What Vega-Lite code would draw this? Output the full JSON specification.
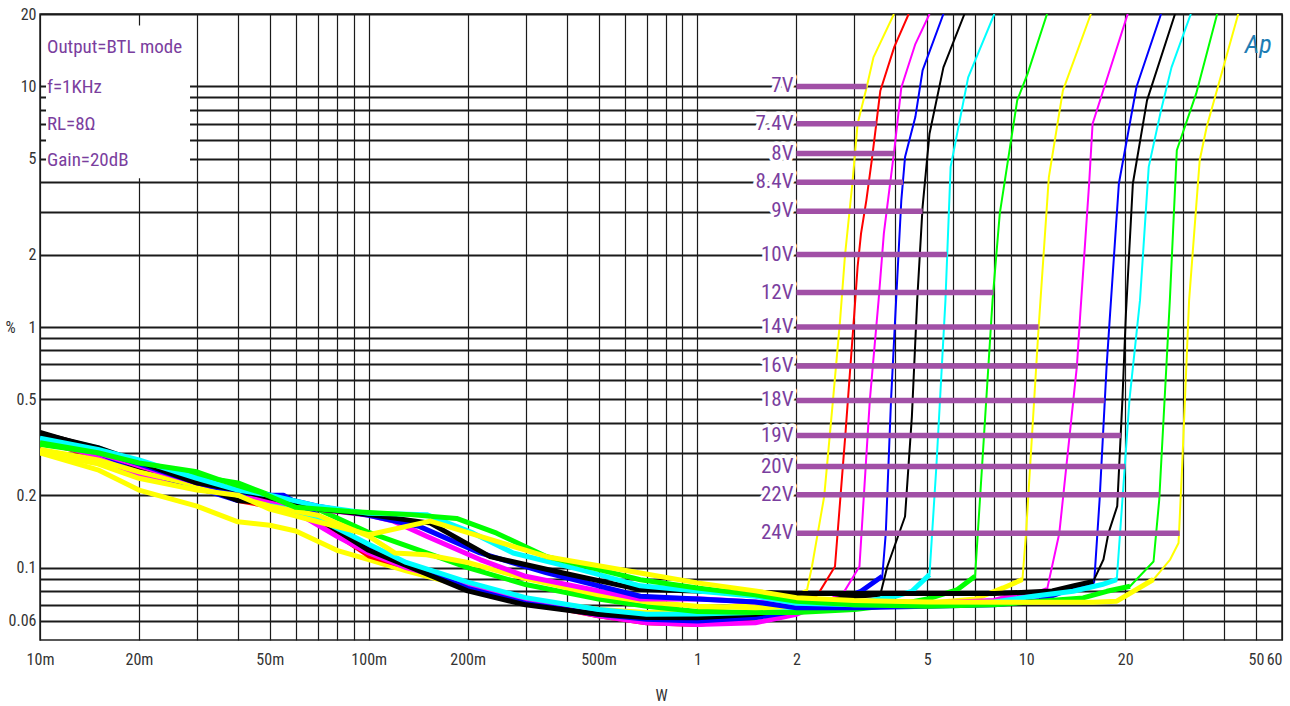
{
  "$schema": "https://vega.github.io/schema/vega-lite/v6.json",
  "width": 1242,
  "height": 626,
  "autosize": {"type": "none"},
  "padding": {"left": 40, "top": 14, "right": 8, "bottom": 66},
  "background": "white",
  "config": {
    "view": {"stroke": "#222", "strokeWidth": 1.5},
    "font": "Liberation Sans Narrow, Arial Narrow, Roboto Condensed, Noto Sans Condensed, DejaVu Sans Condensed, sans-serif"
  },
  "datasets": {
    "box": [{"w": 0.01043, "w2": 0.0286, "p": 4.15, "p2": 17.9}],
    "notes": [
      {"t": "Output=BTL mode", "w": 0.0105, "p": 14.6},
      {"t": "f=1KHz", "w": 0.0105, "p": 9.9},
      {"t": "RL=8Ω", "w": 0.0105, "p": 7.0},
      {"t": "Gain=20dB", "w": 0.0105, "p": 4.95}
    ],
    "logo": [{"t": "Ap", "w": 50.8, "p": 14.8}],
    "volts": [
      {"s": "7V", "w": 2, "p": 10, "w2": 3.27},
      {"s": "7.4V", "w": 2, "p": 7, "w2": 3.5},
      {"s": "8V", "w": 2, "p": 5.26, "w2": 3.97},
      {"s": "8.4V", "w": 2, "p": 4, "w2": 4.22},
      {"s": "9V", "w": 2, "p": 3.03, "w2": 4.84},
      {"s": "10V", "w": 2, "p": 2, "w2": 5.74},
      {"s": "12V", "w": 2, "p": 1.39, "w2": 7.95},
      {"s": "14V", "w": 2, "p": 1, "w2": 10.9},
      {"s": "16V", "w": 2, "p": 0.689, "w2": 14.3},
      {"s": "18V", "w": 2, "p": 0.495, "w2": 17.3},
      {"s": "19V", "w": 2, "p": 0.354, "w2": 19.4},
      {"s": "20V", "w": 2, "p": 0.263, "w2": 20.0},
      {"s": "22V", "w": 2, "p": 0.201, "w2": 25.4},
      {"s": "24V", "w": 2, "p": 0.139, "w2": 29.3}
    ],
    "curves": [
      {"s":"7V","w":0.01,"p":0.30},{"s":"7V","w":0.015,"p":0.255},{"s":"7V","w":0.02,"p":0.21},{"s":"7V","w":0.03,"p":0.18},{"s":"7V","w":0.04,"p":0.155},{"s":"7V","w":0.05,"p":0.15},{"s":"7V","w":0.06,"p":0.142},{"s":"7V","w":0.08,"p":0.118},{"s":"7V","w":0.1,"p":0.108},{"s":"7V","w":0.13,"p":0.097},{"s":"7V","w":0.2,"p":0.083},{"s":"7V","w":0.3,"p":0.074},{"s":"7V","w":0.5,"p":0.067},{"s":"7V","w":0.7,"p":0.065},{"s":"7V","w":1,"p":0.066},{"s":"7V","w":1.5,"p":0.071},{"s":"7V","w":2,"p":0.076},{"s":"7V","w":2.15,"p":0.0797},{"s":"7V","w":2.23,"p":0.101},{"s":"7V","w":2.43,"p":0.198},{"s":"7V","w":2.585,"p":0.5},{"s":"7V","w":2.716,"p":1.07},{"s":"7V","w":2.81,"p":1.98},{"s":"7V","w":2.96,"p":3.95},{"s":"7V","w":3.07,"p":7},{"s":"7V","w":3.27,"p":9.9},{"s":"7V","w":3.43,"p":13.2},{"s":"7V","w":3.96,"p":20},
      {"s":"7.4V","w":0.01,"p":0.335},{"s":"7.4V","w":0.015,"p":0.29},{"s":"7.4V","w":0.02,"p":0.25},{"s":"7.4V","w":0.03,"p":0.225},{"s":"7.4V","w":0.04,"p":0.19},{"s":"7.4V","w":0.05,"p":0.18},{"s":"7.4V","w":0.07,"p":0.155},{"s":"7.4V","w":0.1,"p":0.112},{"s":"7.4V","w":0.15,"p":0.095},{"s":"7.4V","w":0.2,"p":0.083},{"s":"7.4V","w":0.3,"p":0.072},{"s":"7.4V","w":0.5,"p":0.063},{"s":"7.4V","w":0.7,"p":0.059},{"s":"7.4V","w":1,"p":0.058},{"s":"7.4V","w":1.5,"p":0.062},{"s":"7.4V","w":2,"p":0.07},{"s":"7.4V","w":2.34,"p":0.0785},{"s":"7.4V","w":2.62,"p":0.101},{"s":"7.4V","w":2.82,"p":0.362},{"s":"7.4V","w":3.0,"p":1.14},{"s":"7.4V","w":3.07,"p":1.78},{"s":"7.4V","w":3.145,"p":2.45},{"s":"7.4V","w":3.265,"p":3.37},{"s":"7.4V","w":3.39,"p":4.93},{"s":"7.4V","w":3.5,"p":7},{"s":"7.4V","w":3.6,"p":9.6},{"s":"7.4V","w":3.97,"p":14.6},{"s":"7.4V","w":4.39,"p":20},
      {"s":"8V","w":0.01,"p":0.34},{"s":"8V","w":0.015,"p":0.29},{"s":"8V","w":0.02,"p":0.24},{"s":"8V","w":0.025,"p":0.225},{"s":"8V","w":0.03,"p":0.215},{"s":"8V","w":0.04,"p":0.21},{"s":"8V","w":0.05,"p":0.19},{"s":"8V","w":0.06,"p":0.17},{"s":"8V","w":0.08,"p":0.135},{"s":"8V","w":0.1,"p":0.115},{"s":"8V","w":0.13,"p":0.1},{"s":"8V","w":0.2,"p":0.085},{"s":"8V","w":0.3,"p":0.073},{"s":"8V","w":0.5,"p":0.063},{"s":"8V","w":0.7,"p":0.059},{"s":"8V","w":1,"p":0.058},{"s":"8V","w":1.5,"p":0.059},{"s":"8V","w":2,"p":0.064},{"s":"8V","w":2.5,"p":0.072},{"s":"8V","w":2.78,"p":0.0785},{"s":"8V","w":3.11,"p":0.101},{"s":"8V","w":3.345,"p":0.498},{"s":"8V","w":3.556,"p":1.29},{"s":"8V","w":3.69,"p":2.45},{"s":"8V","w":3.97,"p":5.43},{"s":"8V","w":4.17,"p":9.9},{"s":"8V","w":4.6,"p":15},{"s":"8V","w":5.08,"p":20},
      {"s":"8.4V","w":0.01,"p":0.35},{"s":"8.4V","w":0.015,"p":0.3},{"s":"8.4V","w":0.02,"p":0.255},{"s":"8.4V","w":0.03,"p":0.215},{"s":"8.4V","w":0.04,"p":0.19},{"s":"8.4V","w":0.05,"p":0.2},{"s":"8.4V","w":0.055,"p":0.2},{"s":"8.4V","w":0.07,"p":0.165},{"s":"8.4V","w":0.1,"p":0.122},{"s":"8.4V","w":0.13,"p":0.104},{"s":"8.4V","w":0.2,"p":0.082},{"s":"8.4V","w":0.3,"p":0.071},{"s":"8.4V","w":0.5,"p":0.064},{"s":"8.4V","w":0.7,"p":0.061},{"s":"8.4V","w":1,"p":0.06},{"s":"8.4V","w":1.5,"p":0.062},{"s":"8.4V","w":2,"p":0.066},{"s":"8.4V","w":2.5,"p":0.071},{"s":"8.4V","w":3.145,"p":0.0797},{"s":"8.4V","w":3.65,"p":0.092},{"s":"8.4V","w":3.74,"p":0.139},{"s":"8.4V","w":3.88,"p":0.498},{"s":"8.4V","w":4.02,"p":1.29},{"s":"8.4V","w":4.17,"p":3.37},{"s":"8.4V","w":4.28,"p":5.09},{"s":"8.4V","w":4.6,"p":7.46},{"s":"8.4V","w":4.84,"p":11.65},{"s":"8.4V","w":5.6,"p":20},
      {"s":"9V","w":0.01,"p":0.365},{"s":"9V","w":0.015,"p":0.31},{"s":"9V","w":0.02,"p":0.26},{"s":"9V","w":0.03,"p":0.22},{"s":"9V","w":0.04,"p":0.19},{"s":"9V","w":0.05,"p":0.185},{"s":"9V","w":0.07,"p":0.16},{"s":"9V","w":0.1,"p":0.118},{"s":"9V","w":0.13,"p":0.102},{"s":"9V","w":0.2,"p":0.08},{"s":"9V","w":0.3,"p":0.07},{"s":"9V","w":0.5,"p":0.064},{"s":"9V","w":0.7,"p":0.062},{"s":"9V","w":1,"p":0.0619},{"s":"9V","w":1.5,"p":0.064},{"s":"9V","w":2,"p":0.068},{"s":"9V","w":2.5,"p":0.073},{"s":"9V","w":3,"p":0.076},{"s":"9V","w":3.6,"p":0.0772},{"s":"9V","w":3.78,"p":0.101},{"s":"9V","w":4.28,"p":0.163},{"s":"9V","w":4.49,"p":0.424},{"s":"9V","w":4.66,"p":1.29},{"s":"9V","w":4.84,"p":3.16},{"s":"9V","w":5.08,"p":6.36},{"s":"9V","w":5.6,"p":12},{"s":"9V","w":6.49,"p":20},
      {"s":"10V","w":0.01,"p":0.355},{"s":"10V","w":0.015,"p":0.315},{"s":"10V","w":0.02,"p":0.27},{"s":"10V","w":0.03,"p":0.215},{"s":"10V","w":0.04,"p":0.2},{"s":"10V","w":0.05,"p":0.185},{"s":"10V","w":0.07,"p":0.16},{"s":"10V","w":0.1,"p":0.125},{"s":"10V","w":0.13,"p":0.105},{"s":"10V","w":0.2,"p":0.087},{"s":"10V","w":0.3,"p":0.075},{"s":"10V","w":0.5,"p":0.067},{"s":"10V","w":0.7,"p":0.064},{"s":"10V","w":1,"p":0.0641},{"s":"10V","w":1.5,"p":0.065},{"s":"10V","w":2,"p":0.067},{"s":"10V","w":3,"p":0.071},{"s":"10V","w":4,"p":0.076},{"s":"10V","w":4.49,"p":0.0797},{"s":"10V","w":5.08,"p":0.0935},{"s":"10V","w":5.33,"p":0.263},{"s":"10V","w":5.68,"p":1.29},{"s":"10V","w":5.89,"p":4.63},{"s":"10V","w":6.66,"p":10.9},{"s":"10V","w":8.0,"p":20},
      {"s":"12V","w":0.01,"p":0.325},{"s":"12V","w":0.015,"p":0.3},{"s":"12V","w":0.02,"p":0.27},{"s":"12V","w":0.03,"p":0.24},{"s":"12V","w":0.04,"p":0.225},{"s":"12V","w":0.05,"p":0.2},{"s":"12V","w":0.07,"p":0.175},{"s":"12V","w":0.1,"p":0.14},{"s":"12V","w":0.15,"p":0.115},{"s":"12V","w":0.2,"p":0.1},{"s":"12V","w":0.3,"p":0.085},{"s":"12V","w":0.5,"p":0.074},{"s":"12V","w":0.7,"p":0.069},{"s":"12V","w":1,"p":0.0657},{"s":"12V","w":1.5,"p":0.065},{"s":"12V","w":2,"p":0.065},{"s":"12V","w":3,"p":0.067},{"s":"12V","w":4,"p":0.07},{"s":"12V","w":5,"p":0.074},{"s":"12V","w":6.18,"p":0.081},{"s":"12V","w":6.99,"p":0.092},{"s":"12V","w":7.34,"p":0.263},{"s":"12V","w":7.9,"p":1.29},{"s":"12V","w":8.31,"p":2.96},{"s":"12V","w":9.39,"p":8.75},{"s":"12V","w":10.1,"p":11.3},{"s":"12V","w":11.57,"p":20},
      {"s":"14V","w":0.01,"p":0.31},{"s":"14V","w":0.015,"p":0.28},{"s":"14V","w":0.02,"p":0.25},{"s":"14V","w":0.03,"p":0.22},{"s":"14V","w":0.04,"p":0.2},{"s":"14V","w":0.05,"p":0.18},{"s":"14V","w":0.07,"p":0.165},{"s":"14V","w":0.1,"p":0.135},{"s":"14V","w":0.12,"p":0.115},{"s":"14V","w":0.15,"p":0.113},{"s":"14V","w":0.2,"p":0.105},{"s":"14V","w":0.3,"p":0.09},{"s":"14V","w":0.5,"p":0.077},{"s":"14V","w":0.7,"p":0.072},{"s":"14V","w":1,"p":0.069},{"s":"14V","w":1.5,"p":0.068},{"s":"14V","w":2,"p":0.069},{"s":"14V","w":3,"p":0.07},{"s":"14V","w":5,"p":0.071},{"s":"14V","w":7,"p":0.074},{"s":"14V","w":8.51,"p":0.0823},{"s":"14V","w":9.74,"p":0.0892},{"s":"14V","w":9.99,"p":0.139},{"s":"14V","w":10.88,"p":0.942},{"s":"14V","w":11.72,"p":4.2},{"s":"14V","w":12.93,"p":9.6},{"s":"14V","w":15.73,"p":20},
      {"s":"16V","w":0.01,"p":0.34},{"s":"16V","w":0.015,"p":0.3},{"s":"16V","w":0.02,"p":0.265},{"s":"16V","w":0.03,"p":0.225},{"s":"16V","w":0.04,"p":0.205},{"s":"16V","w":0.05,"p":0.19},{"s":"16V","w":0.07,"p":0.175},{"s":"16V","w":0.1,"p":0.165},{"s":"16V","w":0.119,"p":0.156},{"s":"16V","w":0.15,"p":0.135},{"s":"16V","w":0.218,"p":0.108},{"s":"16V","w":0.3,"p":0.092},{"s":"16V","w":0.5,"p":0.08},{"s":"16V","w":0.67,"p":0.074},{"s":"16V","w":1,"p":0.0742},{"s":"16V","w":1.5,"p":0.072},{"s":"16V","w":2,"p":0.07},{"s":"16V","w":3,"p":0.07},{"s":"16V","w":5,"p":0.071},{"s":"16V","w":8,"p":0.073},{"s":"16V","w":9.5,"p":0.078},{"s":"16V","w":10.5,"p":0.077},{"s":"16V","w":11.57,"p":0.081},{"s":"16V","w":12.61,"p":0.139},{"s":"16V","w":14.26,"p":0.684},{"s":"16V","w":14.61,"p":1.14},{"s":"16V","w":15.54,"p":3.95},{"s":"16V","w":15.92,"p":7},{"s":"16V","w":20.36,"p":20},
      {"s":"18V","w":0.01,"p":0.35},{"s":"18V","w":0.015,"p":0.305},{"s":"18V","w":0.02,"p":0.27},{"s":"18V","w":0.03,"p":0.225},{"s":"18V","w":0.04,"p":0.205},{"s":"18V","w":0.05,"p":0.2},{"s":"18V","w":0.07,"p":0.18},{"s":"18V","w":0.1,"p":0.165},{"s":"18V","w":0.143,"p":0.148},{"s":"18V","w":0.218,"p":0.115},{"s":"18V","w":0.348,"p":0.095},{"s":"18V","w":0.67,"p":0.076},{"s":"18V","w":1,"p":0.074},{"s":"18V","w":1.5,"p":0.072},{"s":"18V","w":2,"p":0.068},{"s":"18V","w":3,"p":0.068},{"s":"18V","w":5,"p":0.069},{"s":"18V","w":8,"p":0.07},{"s":"18V","w":11,"p":0.073},{"s":"18V","w":13.9,"p":0.0823},{"s":"18V","w":16.1,"p":0.087},{"s":"18V","w":16.72,"p":0.191},{"s":"18V","w":17.56,"p":0.684},{"s":"18V","w":18,"p":1.14},{"s":"18V","w":19.14,"p":3.95},{"s":"18V","w":21.65,"p":9.94},{"s":"18V","w":25.71,"p":20},
      {"s":"19V","w":0.01,"p":0.36},{"s":"19V","w":0.015,"p":0.315},{"s":"19V","w":0.02,"p":0.275},{"s":"19V","w":0.03,"p":0.225},{"s":"19V","w":0.04,"p":0.21},{"s":"19V","w":0.05,"p":0.195},{"s":"19V","w":0.07,"p":0.175},{"s":"19V","w":0.1,"p":0.166},{"s":"19V","w":0.154,"p":0.153},{"s":"19V","w":0.234,"p":0.111},{"s":"19V","w":0.39,"p":0.095},{"s":"19V","w":0.67,"p":0.081},{"s":"19V","w":1,"p":0.08},{"s":"19V","w":1.5,"p":0.079},{"s":"19V","w":2,"p":0.078},{"s":"19V","w":3,"p":0.078},{"s":"19V","w":5,"p":0.078},{"s":"19V","w":8,"p":0.078},{"s":"19V","w":10,"p":0.079},{"s":"19V","w":12,"p":0.08},{"s":"19V","w":14,"p":0.084},{"s":"19V","w":16,"p":0.0876},{"s":"19V","w":17.18,"p":0.108},{"s":"19V","w":17.79,"p":0.139},{"s":"19V","w":18.92,"p":0.18},{"s":"19V","w":19.62,"p":0.498},{"s":"19V","w":20.11,"p":1.14},{"s":"19V","w":21.11,"p":3.95},{"s":"19V","w":23.31,"p":8.75},{"s":"19V","w":28.36,"p":20},
      {"s":"20V","w":0.01,"p":0.345},{"s":"20V","w":0.015,"p":0.31},{"s":"20V","w":0.02,"p":0.28},{"s":"20V","w":0.03,"p":0.235},{"s":"20V","w":0.04,"p":0.21},{"s":"20V","w":0.05,"p":0.2},{"s":"20V","w":0.07,"p":0.18},{"s":"20V","w":0.1,"p":0.168},{"s":"20V","w":0.15,"p":0.166},{"s":"20V","w":0.208,"p":0.139},{"s":"20V","w":0.275,"p":0.115},{"s":"20V","w":0.44,"p":0.098},{"s":"20V","w":0.67,"p":0.084},{"s":"20V","w":1,"p":0.08},{"s":"20V","w":1.5,"p":0.076},{"s":"20V","w":2,"p":0.071},{"s":"20V","w":3,"p":0.07},{"s":"20V","w":5,"p":0.07},{"s":"20V","w":8,"p":0.072},{"s":"20V","w":10.5,"p":0.076},{"s":"20V","w":13.9,"p":0.0797},{"s":"20V","w":17,"p":0.085},{"s":"20V","w":18.86,"p":0.0892},{"s":"20V","w":19.62,"p":0.191},{"s":"20V","w":20.61,"p":0.498},{"s":"20V","w":22.19,"p":1.29},{"s":"20V","w":23.59,"p":4.63},{"s":"20V","w":25.71,"p":7.95},{"s":"20V","w":27.67,"p":12},{"s":"20V","w":31.68,"p":20},
      {"s":"22V","w":0.01,"p":0.33},{"s":"22V","w":0.015,"p":0.3},{"s":"22V","w":0.02,"p":0.272},{"s":"22V","w":0.03,"p":0.25},{"s":"22V","w":0.035,"p":0.232},{"s":"22V","w":0.047,"p":0.205},{"s":"22V","w":0.06,"p":0.178},{"s":"22V","w":0.088,"p":0.171},{"s":"22V","w":0.134,"p":0.166},{"s":"22V","w":0.185,"p":0.16},{"s":"22V","w":0.245,"p":0.139},{"s":"22V","w":0.348,"p":0.111},{"s":"22V","w":0.67,"p":0.089},{"s":"22V","w":1,"p":0.0823},{"s":"22V","w":1.5,"p":0.077},{"s":"22V","w":2,"p":0.0725},{"s":"22V","w":3,"p":0.07},{"s":"22V","w":5,"p":0.069},{"s":"22V","w":8,"p":0.07},{"s":"22V","w":11,"p":0.0725},{"s":"22V","w":14.9,"p":0.0748},{"s":"22V","w":17.6,"p":0.0797},{"s":"22V","w":20.7,"p":0.0836},{"s":"22V","w":24.4,"p":0.106},{"s":"22V","w":25.39,"p":0.191},{"s":"22V","w":26.69,"p":0.684},{"s":"22V","w":27.35,"p":1.29},{"s":"22V","w":28.72,"p":5.43},{"s":"22V","w":32.89,"p":9.33},{"s":"22V","w":38.09,"p":20},
      {"s":"24V","w":0.01,"p":0.30},{"s":"24V","w":0.015,"p":0.27},{"s":"24V","w":0.02,"p":0.235},{"s":"24V","w":0.03,"p":0.21},{"s":"24V","w":0.04,"p":0.2},{"s":"24V","w":0.05,"p":0.175},{"s":"24V","w":0.07,"p":0.155},{"s":"24V","w":0.1,"p":0.137},{"s":"24V","w":0.154,"p":0.156},{"s":"24V","w":0.234,"p":0.131},{"s":"24V","w":0.348,"p":0.111},{"s":"24V","w":0.67,"p":0.095},{"s":"24V","w":1,"p":0.0864},{"s":"24V","w":1.5,"p":0.08},{"s":"24V","w":2,"p":0.075},{"s":"24V","w":3,"p":0.073},{"s":"24V","w":5,"p":0.072},{"s":"24V","w":10,"p":0.0718},{"s":"24V","w":16,"p":0.0718},{"s":"24V","w":18.86,"p":0.0725},{"s":"24V","w":24.37,"p":0.0892},{"s":"24V","w":27.41,"p":0.108},{"s":"24V","w":29.07,"p":0.1266},{"s":"24V","w":29.81,"p":0.263},{"s":"24V","w":31.3,"p":1.29},{"s":"24V","w":33.71,"p":4.93},{"s":"24V","w":35.4,"p":6.78},{"s":"24V","w":44.16,"p":20}
    ]
  },
  "encoding": {
    "x": {
      "field": "w", "type": "quantitative",
      "scale": {"type": "log", "domain": [0.01, 60], "nice": false},
      "axis": {
        "title": "W",
        "values": [0.01,0.02,0.03,0.04,0.05,0.06,0.07,0.08,0.09,0.1,0.2,0.3,0.4,0.5,0.6,0.7,0.8,0.9,1,2,3,4,5,6,7,8,9,10,20,30,40,50,60],
        "labelExpr": "indexof([0.01,0.02,0.05,0.1,0.2,0.5,1,2,5,10,20,50,60], datum.value) < 0 ? '' : (datum.value < 1 ? round(datum.value * 1000) + 'm' : '' + datum.value)",
        "labelAlign": {"condition": {"test": "datum.value >= 60", "value": "right"}, "value": "center"},
        "grid": true, "gridColor": "#1a1a1a", "gridWidth": 1.2, "gridOpacity": 1,
        "ticks": false, "domain": false,
        "labelFontSize": 16, "labelColor": "#333", "labelPadding": 11,
        "labelFlush": false, "labelOverlap": false, "labelBound": false,
        "titleFontSize": 16, "titleFontWeight": "normal", "titleColor": "#333",
        "titleY": 55, "titleBaseline": "middle"
      }
    },
    "y": {
      "field": "p", "type": "quantitative",
      "scale": {"type": "log", "domain": [0.05, 20], "nice": false},
      "axis": {
        "title": "%",
        "values": [0.06,0.07,0.08,0.09,0.1,0.2,0.3,0.4,0.5,0.6,0.7,0.8,0.9,1,2,3,4,5,6,7,8,9,10,20],
        "labelExpr": "indexof([0.06,0.1,0.2,0.5,1,2,5,10,20], datum.value) < 0 ? '' : '' + datum.value",
        "grid": true, "gridColor": "#1a1a1a", "gridWidth": 1.8, "gridOpacity": 1,
        "ticks": false, "domain": false,
        "labelFontSize": 16, "labelColor": "#333", "labelPadding": 4,
        "labelOverlap": false, "labelBound": false,
        "titleFontSize": 16, "titleFontWeight": "normal", "titleColor": "#333",
        "titleAngle": 0, "titleX": -30, "titleY": 313, "titleAlign": "center", "titleBaseline": "middle"
      }
    }
  },
  "layer": [
    {
      "data": {"name": "box"},
      "mark": {"type": "rect", "fill": "white"},
      "encoding": {
        "x2": {"field": "w2"},
        "y2": {"field": "p2"}
      }
    },
    {
      "data": {"name": "curves"},
      "mark": {"type": "line", "strokeWidth": 2, "clip": true, "strokeJoin": "round"},
      "encoding": {
        "color": {
          "field": "s", "type": "nominal", "legend": null,
          "scale": {
            "domain": ["7V","7.4V","8V","8.4V","9V","10V","12V","14V","16V","18V","19V","20V","22V","24V"],
            "range": ["#FFFF00","#FF0000","#FF00FF","#0000FF","#000000","#00FFFF","#00FF00","#FFFF00","#FF00FF","#0000FF","#000000","#00FFFF","#00FF00","#FFFF00"]
          }
        }
      }
    },
    {
      "data": {"name": "curves"},
      "transform": [{"filter": "datum.w < 1 || datum.p <= 0.1"}],
      "mark": {"type": "line", "strokeWidth": 5, "clip": true, "strokeJoin": "round"},
      "encoding": {
        "color": {"field": "s", "type": "nominal", "legend": null}
      }
    },
    {
      "data": {"name": "volts"},
      "mark": {"type": "rule", "color": "#A150A6", "strokeWidth": 5.5},
      "encoding": {
        "x2": {"field": "w2"}
      }
    },
    {
      "data": {"name": "volts"},
      "mark": {"type": "text", "align": "right", "baseline": "middle", "dx": -3, "fontSize": 21, "fill": "white", "stroke": "white", "strokeWidth": 7, "strokeJoin": "round"},
      "encoding": {
        "text": {"field": "s"}
      }
    },
    {
      "data": {"name": "volts"},
      "mark": {"type": "text", "align": "right", "baseline": "middle", "dx": -3, "fontSize": 21, "color": "#7A3E9E"},
      "encoding": {
        "text": {"field": "s"}
      }
    },
    {
      "data": {"name": "notes"},
      "mark": {"type": "text", "align": "left", "baseline": "middle", "fontSize": 19, "color": "#7A3E9E"},
      "encoding": {
        "text": {"field": "t"}
      }
    },
    {
      "data": {"name": "logo"},
      "mark": {"type": "text", "align": "center", "baseline": "middle", "fontSize": 26, "fontStyle": "italic", "color": "#1E7DB4"},
      "encoding": {
        "text": {"field": "t"}
      }
    }
  ]
}
